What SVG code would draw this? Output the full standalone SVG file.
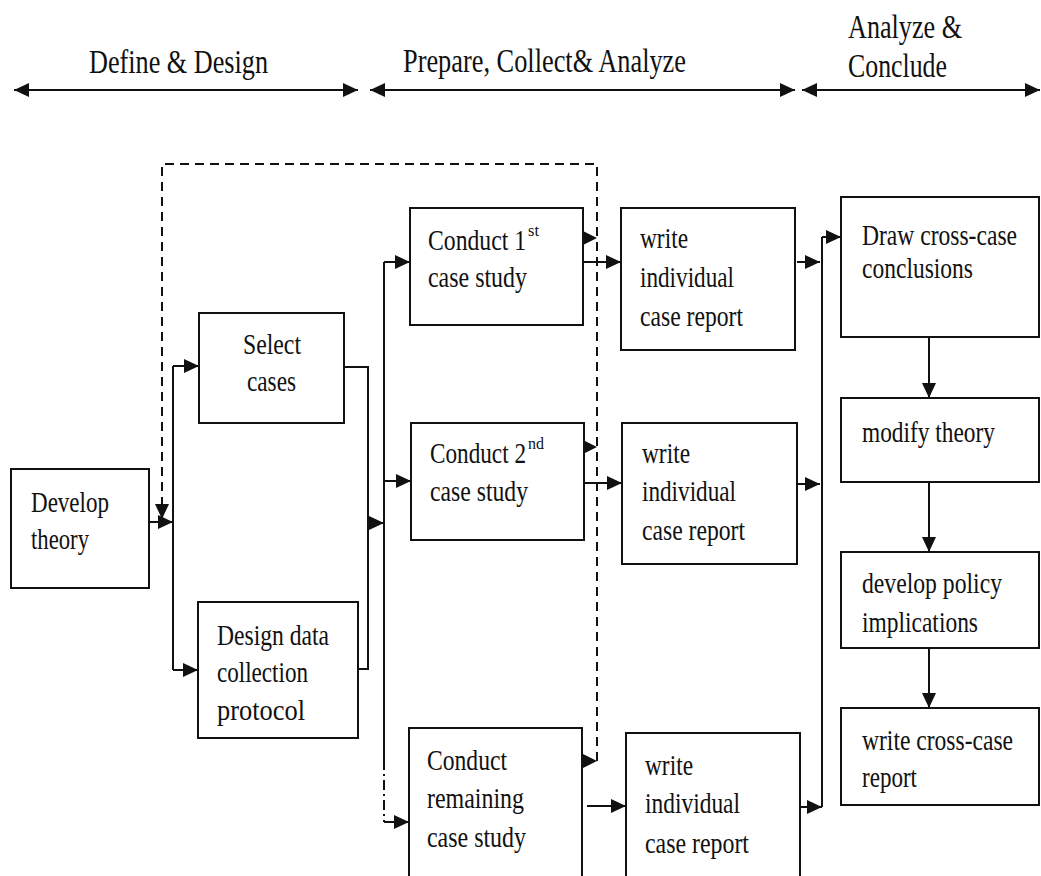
<svg xmlns="http://www.w3.org/2000/svg" width="1041" height="876" viewBox="0 0 1041 876">
<defs>
<style>
.box{fill:#fff;stroke:#111;stroke-width:2}
.t{font-family:"Liberation Serif","Times New Roman",serif;font-size:30px;fill:#111}
.h{font-family:"Liberation Serif","Times New Roman",serif;font-size:33px;fill:#111}
.sup{font-family:"Liberation Serif","Times New Roman",serif;font-size:17px;fill:#111}
.ln{fill:none;stroke:#111;stroke-width:2}
.ar{fill:none;stroke:#111;stroke-width:2;marker-end:url(#ah)}
.dash{fill:none;stroke:#111;stroke-width:2;stroke-dasharray:9 6}
.dd{fill:none;stroke:#111;stroke-width:2;stroke-dasharray:10 4 2 4}
.hd{fill:#111}
</style>
<marker id="ah" viewBox="0 0 15 14" refX="15" refY="7" markerWidth="15" markerHeight="14" markerUnits="userSpaceOnUse" orient="auto-start-reverse"><path d="M0,0 L15,7 L0,14 z" fill="#111"/></marker>
</defs>
<rect width="1041" height="876" fill="#fff"/>

<g id="phases">
<path class="ln" d="M14,90 H358" marker-start="url(#ah)" marker-end="url(#ah)"/>
<path class="ln" d="M370,90 H795" marker-start="url(#ah)" marker-end="url(#ah)"/>
<path class="ln" d="M802,90 H1040" marker-start="url(#ah)" marker-end="url(#ah)"/>
<text class="h" x="89" y="73" textLength="179" lengthAdjust="spacingAndGlyphs">Define &amp; Design</text>
<text class="h" x="403" y="72" textLength="283" lengthAdjust="spacingAndGlyphs">Prepare, Collect&amp; Analyze</text>
<text class="h" x="848" y="38" textLength="114" lengthAdjust="spacingAndGlyphs">Analyze &amp;</text>
<text class="h" x="848" y="77" textLength="99" lengthAdjust="spacingAndGlyphs">Conclude</text>
</g>

<g id="connectors">
<path class="ar" d="M149,522 H173"/>
<path class="ln" d="M173,366 V670"/>
<path class="ar" d="M173,366 H199"/>
<path class="ar" d="M173,670 H198"/>
<path class="ln" d="M344,367 H368 V669 H358"/>
<path class="ar" d="M368,523 H384"/>
<path class="ln" d="M384,262 V760"/>
<path class="dd" d="M384,760 V822"/>
<path class="ar" d="M384,262 H410"/>
<path class="ar" d="M384,481 H411"/>
<path class="ar" d="M384,822 H409"/>
<path class="ar" d="M583,262 H621"/>
<path class="ar" d="M584,483 H622"/>
<path class="ar" d="M587,806 H626"/>
<path class="ar" d="M797,262 H820"/>
<path class="ar" d="M797,484 H820"/>
<path class="ln" d="M800,807 H808"/>
<path class="ar" d="M806,807 H822"/>
<path class="ln" d="M822,237 V807"/>
<path class="ar" d="M822,237 H841"/>
<path class="ar" d="M929,337 V398"/>
<path class="ar" d="M929,482 V552"/>
<path class="ar" d="M929,648 V708"/>
<path class="dash" d="M162,506 V164 H597 V761"/>
<polygon class="hd" points="155,504 169,504 162,519"/>
<polygon class="hd" points="583,231 597,238 583,245"/>
<polygon class="hd" points="583,440 597,447 583,454"/>
<polygon class="hd" points="583,754 597,761 583,768"/>
</g>

<g id="develop-theory">
<rect class="box" x="11" y="469" width="138" height="119"/>
<text class="t" x="31" y="512" textLength="78" lengthAdjust="spacingAndGlyphs">Develop</text>
<text class="t" x="31" y="549" textLength="58" lengthAdjust="spacingAndGlyphs">theory</text>
</g>

<g id="select-cases">
<rect class="box" x="199" y="313" width="145" height="110"/>
<text class="t" x="243" y="354" textLength="58" lengthAdjust="spacingAndGlyphs">Select</text>
<text class="t" x="247" y="391" textLength="49" lengthAdjust="spacingAndGlyphs">cases</text>
</g>

<g id="design-protocol">
<rect class="box" x="198" y="602" width="160" height="136"/>
<text class="t" x="217" y="645" textLength="112" lengthAdjust="spacingAndGlyphs">Design data</text>
<text class="t" x="217" y="682" textLength="91" lengthAdjust="spacingAndGlyphs">collection</text>
<text class="t" x="217" y="720" textLength="88" lengthAdjust="spacingAndGlyphs">protocol</text>
</g>

<g id="conduct-1">
<rect class="box" x="410" y="208" width="173" height="117"/>
<text class="t" x="428" y="250" textLength="98" lengthAdjust="spacingAndGlyphs">Conduct 1</text>
<text class="sup" x="528" y="236" textLength="11" lengthAdjust="spacingAndGlyphs">st</text>
<text class="t" x="428" y="287" textLength="99" lengthAdjust="spacingAndGlyphs">case study</text>
</g>

<g id="report-1">
<rect class="box" x="621" y="208" width="174" height="142"/>
<text class="t" x="640" y="248" textLength="48" lengthAdjust="spacingAndGlyphs">write</text>
<text class="t" x="640" y="287" textLength="94" lengthAdjust="spacingAndGlyphs">individual</text>
<text class="t" x="640" y="326" textLength="103" lengthAdjust="spacingAndGlyphs">case report</text>
</g>

<g id="conduct-2">
<rect class="box" x="411" y="423" width="173" height="117"/>
<text class="t" x="430" y="463" textLength="96" lengthAdjust="spacingAndGlyphs">Conduct 2</text>
<text class="sup" x="528" y="449" textLength="16" lengthAdjust="spacingAndGlyphs">nd</text>
<text class="t" x="430" y="501" textLength="98" lengthAdjust="spacingAndGlyphs">case study</text>
</g>

<g id="report-2">
<rect class="box" x="622" y="423" width="175" height="141"/>
<text class="t" x="642" y="463" textLength="48" lengthAdjust="spacingAndGlyphs">write</text>
<text class="t" x="642" y="501" textLength="94" lengthAdjust="spacingAndGlyphs">individual</text>
<text class="t" x="642" y="540" textLength="103" lengthAdjust="spacingAndGlyphs">case report</text>
</g>

<g id="conduct-remaining">
<rect class="box" x="409" y="728" width="173" height="152"/>
<text class="t" x="427" y="770" textLength="80" lengthAdjust="spacingAndGlyphs">Conduct</text>
<text class="t" x="427" y="808" textLength="97" lengthAdjust="spacingAndGlyphs">remaining</text>
<text class="t" x="427" y="847" textLength="99" lengthAdjust="spacingAndGlyphs">case study</text>
</g>

<g id="report-3">
<rect class="box" x="626" y="733" width="174" height="147"/>
<text class="t" x="645" y="775" textLength="48" lengthAdjust="spacingAndGlyphs">write</text>
<text class="t" x="645" y="813" textLength="95" lengthAdjust="spacingAndGlyphs">individual</text>
<text class="t" x="645" y="853" textLength="104" lengthAdjust="spacingAndGlyphs">case report</text>
</g>

<g id="draw-conclusions">
<rect class="box" x="841" y="197" width="198" height="140"/>
<text class="t" x="862" y="245" textLength="155" lengthAdjust="spacingAndGlyphs">Draw cross-case</text>
<text class="t" x="862" y="278" textLength="111" lengthAdjust="spacingAndGlyphs">conclusions</text>
</g>

<g id="modify-theory">
<rect class="box" x="841" y="398" width="198" height="84"/>
<text class="t" x="862" y="442" textLength="133" lengthAdjust="spacingAndGlyphs">modify theory</text>
</g>

<g id="policy-implications">
<rect class="box" x="841" y="552" width="198" height="96"/>
<text class="t" x="862" y="593" textLength="140" lengthAdjust="spacingAndGlyphs">develop policy</text>
<text class="t" x="862" y="632" textLength="116" lengthAdjust="spacingAndGlyphs">implications</text>
</g>

<g id="cross-case-report">
<rect class="box" x="841" y="708" width="198" height="97"/>
<text class="t" x="862" y="750" textLength="151" lengthAdjust="spacingAndGlyphs">write cross-case</text>
<text class="t" x="862" y="787" textLength="55" lengthAdjust="spacingAndGlyphs">report</text>
</g>
</svg>
